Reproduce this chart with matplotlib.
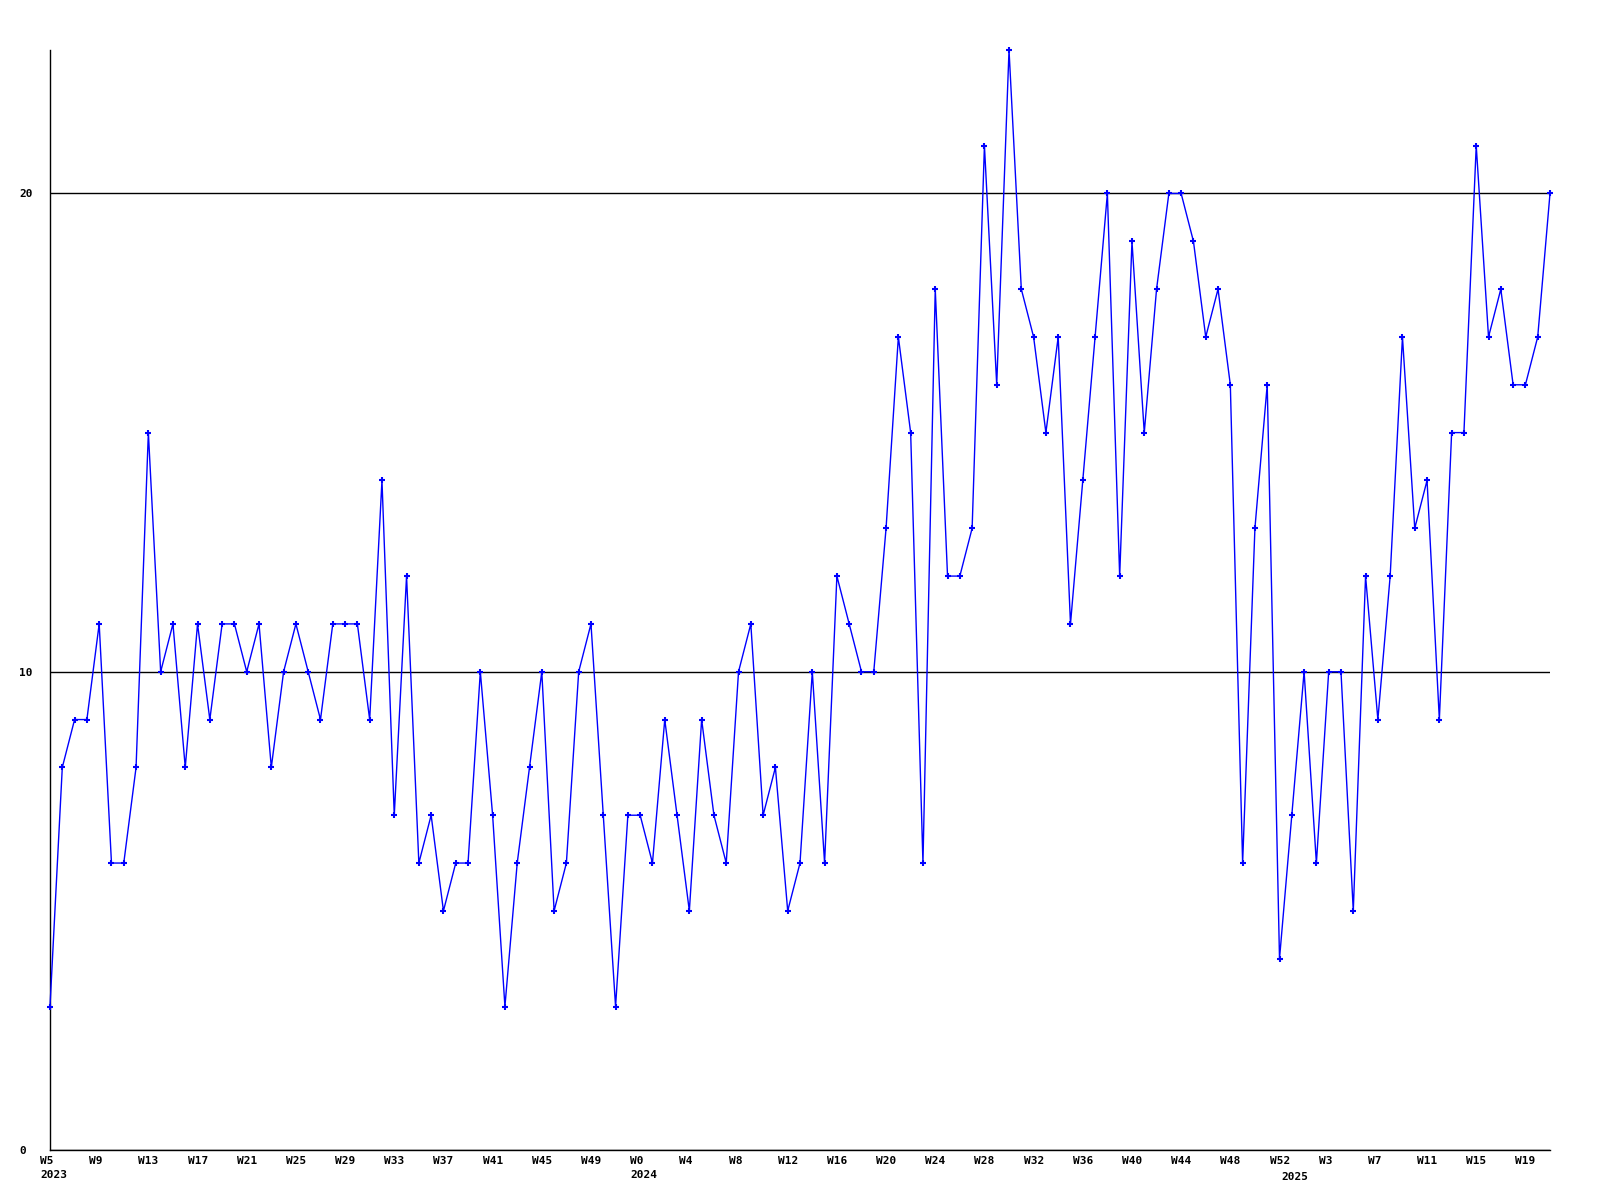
import matplotlib
matplotlib.use("Agg")
import matplotlib.pyplot as plt
from matplotlib.transforms import ScaledTranslation

# weekly counts, 2023 W5 .. 2025 W21 (one value per week)
values_2023 = [3, 8, 9, 9, 11, 6, 6, 8, 15, 10, 11, 8, 11, 9, 11, 11,
               10, 11, 8, 10, 11, 10, 9, 11, 11, 11, 9, 14, 7, 12, 6, 7,
               5, 6, 6, 10, 7, 3, 6, 8, 10, 5, 6, 10, 11, 7, 3, 7]
values_2024 = [7, 6, 9, 7, 5, 9, 7, 6, 10, 11, 7, 8, 5, 6, 10, 6,
               12, 11, 10, 10, 13, 17, 15, 6, 18, 12, 12, 13, 21, 16, 23, 18,
               17, 15, 17, 11, 14, 17, 20, 12, 19, 15, 18, 20, 20, 19, 17, 18,
               16, 6, 13, 16, 4]
values_2025 = [7, 10, 6, 10, 10, 5, 12, 9, 12, 17, 13, 14, 9, 15, 15, 21,
               17, 18, 16, 16, 17, 20]

# x tick labels every 4 weeks, year markers on a second line
tick_labels = ["W5", "W9", "W13", "W17", "W21", "W25", "W29", "W33", "W37",
               "W41", "W45", "W49", "W0", "W4", "W8", "W12", "W16", "W20",
               "W24", "W28", "W32", "W36", "W40", "W44", "W48", "W52", "W3",
               "W7", "W11", "W15", "W19"]
years = ["2023", "2024", "2025"]
y_ticks = [0, 10, 20]

values = values_2023 + values_2024 + values_2025
x = list(range(len(values)))
start_2024 = len(values_2023)
start_2025 = len(values_2023) + len(values_2024)

font = dict(family="DejaVu Sans Mono", weight="bold", size=8)

fig = plt.figure(figsize=(16, 12), dpi=100)
ax = fig.add_axes([50 / 1600, 50 / 1200, 1500 / 1600, 1100 / 1200])

ax.plot(x, values, color="#0000ff", lw=1.0, marker="+", ms=5, mew=1.5,
        clip_on=False, zorder=3)

ax.set_xlim(0, len(values) - 1)
ax.set_ylim(0, 23)

for s in ("top", "right"):
    ax.spines[s].set_visible(False)
for s in ("left", "bottom"):
    ax.spines[s].set_linewidth(1.0)
    ax.spines[s].set_color("black")

# horizontal reference lines
ax.set_yticks(y_ticks)
ax.set_yticklabels([str(v) for v in y_ticks], fontdict=font, ha="left")
ax.tick_params(axis="y", length=0, pad=22)
ax.yaxis.grid(True, color="black", lw=1.0)
ax.set_axisbelow(True)

# x labels: "W#" with year underneath where a year starts
major = list(range(0, len(values), 4))
labels = []
for pos, lab in zip(major, tick_labels):
    if pos == 0:
        lab += "\n" + years[0]
    elif pos == start_2024:
        lab += "\n" + years[1]
    labels.append(lab)
ax.set_xticks(major)
ax.set_xticklabels(labels, fontdict=font, ha="left", linespacing=1.5)
ax.tick_params(axis="x", which="major", length=0, pad=4)
# 2025 starts between labelled weeks: year only, on the second line
ax.set_xticks([start_2025], minor=True)
ax.set_xticklabels([years[2]], minor=True, fontdict=font, ha="left")
ax.tick_params(axis="x", which="minor", length=0, pad=15.5)

shift = ScaledTranslation(-10 / 100, 0, fig.dpi_scale_trans)
for lab in ax.get_xticklabels(which="both"):
    lab.set_transform(lab.get_transform() + shift)

fig.savefig("out.png", dpi=100, facecolor="white")
plt.close(fig)
